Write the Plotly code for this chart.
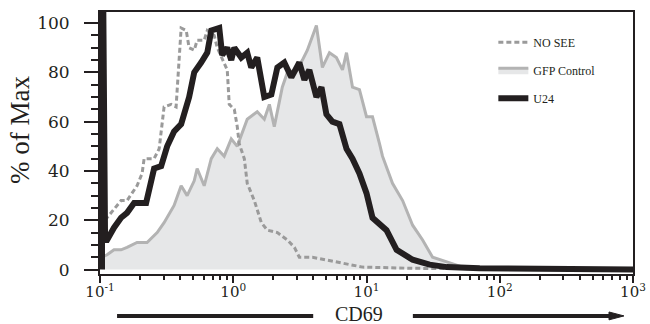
import plotly.graph_objects as go

# ---- data (x in log10(CD69) decades, y in % of Max) ----
u24_log_cd69 = [-0.985, -0.985, -0.975, -0.962, -0.947, -0.895, -0.842, -0.797, -0.744, -0.654,
                -0.594, -0.541, -0.496, -0.444, -0.391, -0.331, -0.293, -0.241, -0.195, -0.165,
                -0.105, -0.083, -0.045, -0.015, 0.008, 0.060, 0.105, 0.135, 0.180, 0.233,
                0.286, 0.331, 0.383, 0.436, 0.496, 0.534, 0.571, 0.624, 0.662, 0.699,
                0.744, 0.797, 0.850, 0.895, 0.947, 1.000, 1.045, 1.150, 1.226, 1.346,
                1.474, 1.602, 1.850, 3.000]
u24_pct = [0, 104, 104, 12, 12, 17, 21, 23, 27, 27,
           41, 42, 50, 56, 59, 70, 80, 84, 88, 97,
           98, 87, 90, 85, 90, 86, 88, 82, 86, 70,
           71, 82, 84, 78, 84, 77, 81, 70, 74, 63,
           60, 59, 49, 45, 39, 31, 21, 16, 8, 4,
           2, 1, 0.5, 0]

gfp_log_cd69 = [-0.985, -0.947, -0.895, -0.842, -0.797, -0.722, -0.647, -0.571, -0.519, -0.444,
                -0.391, -0.346, -0.293, -0.271, -0.218, -0.165, -0.120, -0.068, -0.015, 0.030,
                0.105, 0.180, 0.233, 0.271, 0.308, 0.368, 0.406, 0.474, 0.519, 0.556,
                0.624, 0.669, 0.722, 0.774, 0.820, 0.850, 0.895, 0.947, 1.000, 1.045,
                1.098, 1.120, 1.195, 1.271, 1.346, 1.421, 1.496, 1.602, 1.722, 2.000,
                3.000]
gfp_pct = [5, 6, 8, 8, 9, 11, 11, 15, 19, 26,
           34, 30, 36, 41, 34, 45, 49, 46, 53, 50,
           61, 64, 61, 67, 58, 74, 80, 81, 85, 89,
           99, 82, 88, 86, 81, 88, 74, 73, 62, 62,
           51, 46, 35, 28, 18, 12, 5, 3, 1, 0.3,
           0]

nosee_log_cd69 = [-0.962, -0.917, -0.842, -0.797, -0.722, -0.684, -0.669, -0.594, -0.556, -0.519,
                  -0.466, -0.429, -0.391, -0.353, -0.331, -0.293, -0.271, -0.218, -0.195, -0.143,
                  -0.120, -0.045, -0.030, 0.008, 0.030, 0.045, 0.083, 0.105, 0.158, 0.211,
                  0.256, 0.331, 0.406, 0.459, 0.496, 0.594, 0.797, 0.970, 1.346, 3.000]
nosee_pct = [20, 23, 28, 28, 34, 39, 45, 45, 49, 66,
             67, 66, 98, 97, 90, 89, 93, 93, 97, 95,
             90, 81, 67, 65, 58, 51, 45, 35, 28, 19,
             16, 15, 12, 9, 5, 5, 3, 1, 0.5, 0]

x_tick_vals = [0.1, 1, 10, 100, 1000]
x_tick_text = ["10<sup>-1</sup>", "10<sup>0</sup>", "10<sup>1</sup>", "10<sup>2</sup>", "10<sup>3</sup>"]
y_tick_vals = [0, 20, 40, 60, 80, 100]
y_tick_text = ["0", "20", "40", "60", "80", "100"]

def lin(vals):
    return [10 ** v for v in vals]

BLACK = "#231f20"
serif = "Liberation Serif"

fig = go.Figure()
fig.add_trace(go.Scatter(
    x=lin(gfp_log_cd69), y=gfp_pct, name="GFP Control", mode="lines",
    line=dict(color="#b3b3b3", width=3), fill="tozeroy", fillcolor="#e6e7e8",
    legendgroup="b", legendrank=2))
fig.add_trace(go.Scatter(
    x=lin(nosee_log_cd69), y=nosee_pct, name="NO SEE", mode="lines",
    line=dict(color="#9a9a9a", width=3, dash="5px,3px"),
    legendgroup="a", legendrank=1))
fig.add_trace(go.Scatter(
    x=lin(u24_log_cd69), y=u24_pct, name="U24", mode="lines",
    line=dict(color=BLACK, width=6),
    legendgroup="c", legendrank=3))

fig.update_xaxes(
    type="log", range=[-1, 3], tickmode="array", tickvals=x_tick_vals, ticktext=x_tick_text,
    ticks="outside", ticklen=7, tickwidth=2, tickcolor=BLACK, ticklabelstandoff=-4,
    minor=dict(ticks="outside", ticklen=4, tickwidth=2, tickcolor=BLACK, dtick="D1", showgrid=False),
    showline=True, linecolor=BLACK, linewidth=2, mirror=True, showgrid=False, zeroline=False,
    automargin=False,
    tickfont=dict(family="DejaVu Serif", size=15, color=BLACK))
fig.update_yaxes(
    range=[-1.8, 104.5], tickmode="array", tickvals=y_tick_vals, ticktext=y_tick_text,
    ticks="outside", ticklen=14, tickwidth=2, tickcolor=BLACK, ticklabelstandoff=11,
    minor=dict(ticks="outside", ticklen=7, tickwidth=2, tickcolor=BLACK, dtick=5, showgrid=False),
    showline=True, linecolor=BLACK, linewidth=2, mirror=True, showgrid=False, zeroline=False,
    automargin=False,
    tickfont=dict(family="DejaVu Serif", size=17, color=BLACK))

fig.update_layout(
    width=650, height=324, margin=dict(l=100, r=17, t=12, b=50),
    paper_bgcolor="white", plot_bgcolor="white",
    showlegend=True,
    legend=dict(x=0.738, y=0.94, xanchor="left", yanchor="top", traceorder="grouped",
                tracegroupgap=9, bgcolor="rgba(0,0,0,0)",
                font=dict(family=serif, size=12, color=BLACK)),
    annotations=[
        dict(text="CD69", x=0.486, y=-0.152, xref="paper", yref="paper", showarrow=False,
             xanchor="center", yanchor="middle", font=dict(family=serif, size=20, color=BLACK)),
        dict(text="% of Max", x=-0.150, y=0.55, xref="paper", yref="paper", showarrow=False,
             textangle=-90, xanchor="center", yanchor="middle",
             font=dict(family=serif, size=27, color=BLACK)),
    ],
    shapes=[
        dict(type="line", xref="paper", yref="paper", x0=0.032, x1=0.400, y0=-0.160, y1=-0.160,
             line=dict(color=BLACK, width=4)),
        dict(type="line", xref="paper", yref="paper", x0=0.587, x1=0.960, y0=-0.160, y1=-0.160,
             line=dict(color=BLACK, width=4)),
        dict(type="path", xref="paper", yref="paper",
             path="M 0.955,-0.145 L 0.983,-0.160 L 0.955,-0.175 Z",
             fillcolor=BLACK, line=dict(color=BLACK, width=1)),
    ],
)

fig.write_html("out.html", config={"displayModeBar": False},
               post_script="document.body.style.margin='0';")
